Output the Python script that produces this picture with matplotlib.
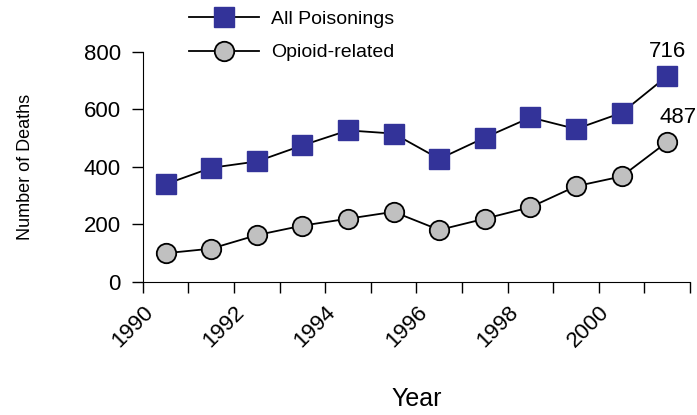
import matplotlib.pyplot as plt

# Arial-like font, fall back to DejaVu
plt.rcParams['font.family'] = ['Liberation Sans', 'DejaVu Sans']

years = [1990, 1991, 1992, 1993, 1994, 1995, 1996, 1997, 1998, 1999, 2000, 2001]
all_poisonings = [340, 397, 419, 475, 527, 516, 428, 502, 572, 532, 588, 716]
opioid_related = [100, 116, 163, 196, 220, 244, 181, 220, 260, 333, 367, 487]
tick_labels = ['1990', '1992', '1994', '1996', '1998', '2000']

fig = plt.figure(figsize=(6.97, 4.15), dpi=100)
ax = fig.add_axes([0.205, 0.3205, 0.785, 0.5545])

# points sit between the year tick marks
xs = [y + 0.5 for y in years]
ax.plot(xs, all_poisonings, color='black', lw=1.3, marker='s', ms=15,
        mfc='#333399', mec='#333399', label='All Poisonings')
ax.plot(xs, opioid_related, color='black', lw=1.3, marker='o', ms=14,
        mfc='#C0C0C0', mec='black', mew=1.3, label='Opioid-related')

ax.annotate(str(all_poisonings[-1]), (xs[-1], all_poisonings[-1]), xytext=(0, 10),
            textcoords='offset points', ha='center', va='bottom', fontsize=16)
ax.annotate(str(opioid_related[-1]), (xs[-1], opioid_related[-1]), xytext=(8, 10),
            textcoords='offset points', ha='center', va='bottom', fontsize=16)

ax.set_xlim(1990, 2002)
ax.set_ylim(0, 800)
ax.set_yticks([0, 200, 400, 600, 800])
ax.set_xticks(range(1990, 2003))
ax.set_xticklabels([str(y) if str(y) in tick_labels else '' for y in range(1990, 2003)],
                   rotation=45, ha='right', rotation_mode='anchor', fontsize=16)
ax.tick_params(axis='y', labelsize=16, length=8, width=1, pad=8)
ax.tick_params(axis='x', length=8, width=1, pad=6)
for s in ['top', 'right']:
    ax.spines[s].set_visible(False)

ax.set_xlabel('Year', fontsize=18, labelpad=26)
ax.set_ylabel('Number of Deaths', fontsize=13, labelpad=36)

ax.legend(loc='lower left', bbox_to_anchor=(0.07, 0.925), frameon=False, fontsize=14,
          handlelength=3.6, labelspacing=0.8, handletextpad=0.6, borderaxespad=0)

fig.savefig('out.png', dpi=100)
